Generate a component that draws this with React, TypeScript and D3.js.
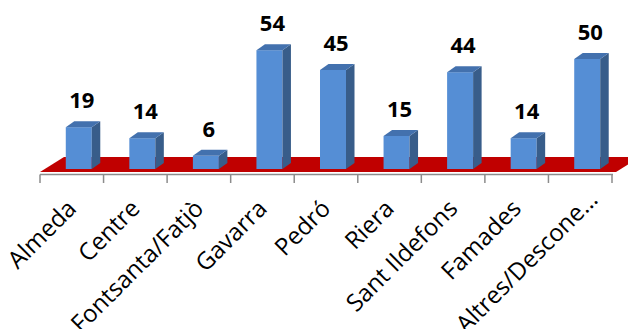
import React from "react";
import * as d3 from "d3";

const categories = ["Almeda", "Centre", "Fontsanta/Fatjò", "Gavarra", "Pedró", "Riera", "Sant Ildefons", "Famades", "Altres/Descone…"];
const values = [19, 14, 6, 54, 45, 15, 44, 14, 50];

const W = 628;
const H = 329;

export default function App() {
  const x = d3.scaleBand<string>().domain(categories).range([40, 612]).paddingInner(0).paddingOuter(0);
  const base = 169;
  const y = d3.scaleLinear().domain([0, 60]).range([base, base - 132]);
  const bw = 26;
  const ddx = 8.5;
  const ddy = 6;
  const floorFront = 172;
  const floorBack = 157;
  const floorDx = 24;
  const ticks = categories.map((c) => x(c)!).concat([612]);
  const font = "'Open Sans', 'DejaVu Sans', sans-serif";

  return (
    <svg width={W} height={H} style={{ position: "absolute", left: 0, top: 0, background: "#fff" }}>
      <polygon
        points={`40,${floorFront} 616,${floorFront} ${616 + floorDx},${floorBack} ${40 + floorDx},${floorBack}`}
        fill="#C00000"
      />
      <line x1={40} x2={613} y1={174.5} y2={174.5} stroke="#8c8c8c" strokeWidth={1.5} />
      {ticks.map((t, i) => (
        <line key={i} x1={t} x2={t} y1={174.5} y2={183} stroke="#8c8c8c" strokeWidth={1.5} />
      ))}
      {categories.map((c, i) => {
        const cx = x(c)! + x.bandwidth() / 2;
        const x0 = cx - 6;
        const top = y(values[i]);
        return (
          <g key={c}>
            <rect x={x0} y={top} width={bw} height={base - top} fill="#558ED5" />
            <polygon
              points={`${x0 + bw},${base} ${x0 + bw + ddx},${base - ddy} ${x0 + bw + ddx},${top - ddy} ${x0 + bw},${top}`}
              fill="#385D8A"
            />
            <polygon
              points={`${x0},${top} ${x0 + ddx},${top - ddy} ${x0 + bw + ddx},${top - ddy} ${x0 + bw},${top}`}
              fill="#4371AE"
            />
            <text
              x={x0 + bw / 2 + 3}
              y={top - 19}
              textAnchor="middle"
              fontFamily={font}
              fontWeight="bold"
              fontSize={22}
              fill="#000"
            >
              {values[i]}
            </text>
          </g>
        );
      })}
      {categories.map((c) => {
        const cx = x(c)! + x.bandwidth() / 2;
        const trunc = c.endsWith("…");
        const lx = cx + (trunc ? 19 : 6);
        const ly = trunc ? 201 : 210;
        return (
          <text
            key={"l" + c}
            transform={`translate(${lx},${ly}) rotate(-45)`}
            textAnchor="end"
            fontFamily={font}
            fontSize={24}
            fill="#000"
          >
            {c}
          </text>
        );
      })}
    </svg>
  );
}
